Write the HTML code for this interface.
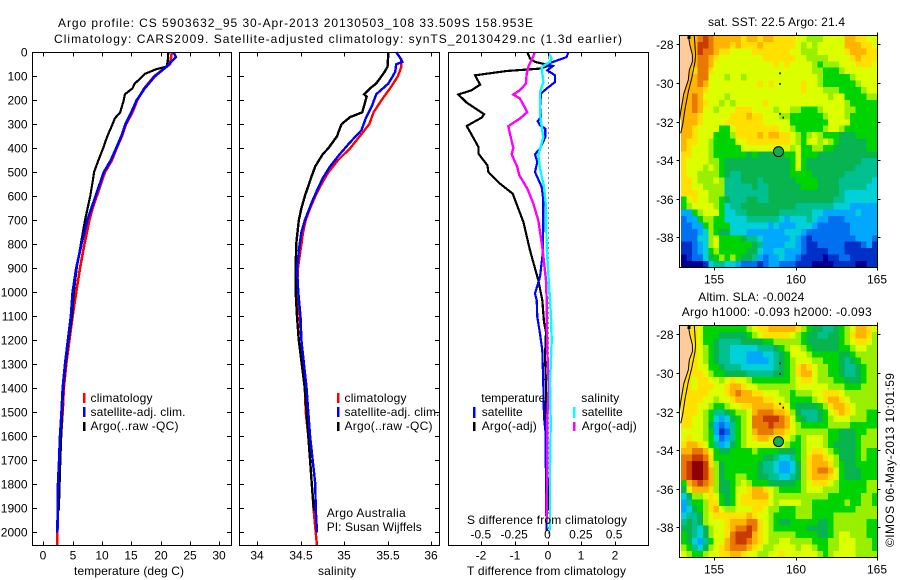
<!DOCTYPE html>
<html lang="en">
<head>
<meta charset="utf-8">
<title>Argo profile chart</title>
<style>
html,body{margin:0;padding:0;background:#fff;}
svg{display:block;}
text{font-family:"Liberation Sans",sans-serif;font-size:12px;fill:#000;}
</style>
</head>
<body>
<svg id="chart" xmlns="http://www.w3.org/2000/svg" width="900" height="580" viewBox="0 0 900 580">
<rect x="0" y="0" width="900" height="580" fill="#fff"/>
<g id="cells"></g>
<g id="marks"></g>
<g id="axes"></g>
<text x="58" y="27" textLength="475" lengthAdjust="spacing">Argo profile: CS 5903632_95 30-Apr-2013 20130503_108 33.509S 158.953E</text>
<text x="54" y="43" textLength="568" lengthAdjust="spacing">Climatology: CARS2009. Satellite-adjusted climatology: synTS_20130429.nc (1.3d earlier)</text>
<text x="74" y="575" textLength="110" lengthAdjust="spacing">temperature (deg C)</text>
<text x="318" y="575" textLength="38" lengthAdjust="spacing">salinity</text>
<text x="467" y="575" textLength="159" lengthAdjust="spacing">T difference from climatology</text>
<text x="467" y="524" textLength="160" lengthAdjust="spacing">S difference from climatology</text>

<g>
<rect x="83" y="393" width="2.5" height="10" fill="#f00"/>
<rect x="83" y="407" width="2.5" height="10" fill="#00f"/>
<rect x="83" y="422" width="2.5" height="9" fill="#000"/>
<text x="90.5" y="402" textLength="62" lengthAdjust="spacing">climatology</text>
<text x="90.5" y="416" textLength="95" lengthAdjust="spacing">satellite-adj. clim.</text>
<text x="90.5" y="430" textLength="88" lengthAdjust="spacing">Argo(..raw -QC)</text>
</g>
<g>
<rect x="337" y="393" width="2.5" height="10" fill="#f00"/>
<rect x="337" y="407" width="2.5" height="10" fill="#00f"/>
<rect x="337" y="422" width="2.5" height="9" fill="#000"/>
<text x="344.5" y="402" textLength="62" lengthAdjust="spacing">climatology</text>
<text x="344.5" y="416" textLength="95" lengthAdjust="spacing">satellite-adj. clim.</text>
<text x="344.5" y="430" textLength="88" lengthAdjust="spacing">Argo(..raw -QC)</text>
<text x="326.7" y="517" textLength="79" lengthAdjust="spacing">Argo Australia</text>
<text x="326.7" y="531" textLength="95" lengthAdjust="spacing">PI: Susan Wijffels</text>
</g>
<g>
<text x="481.3" y="402" textLength="64" lengthAdjust="spacing">temperature</text>
<rect x="473" y="407" width="2.5" height="11" fill="#00f"/>
<rect x="473" y="422" width="2.5" height="9" fill="#000"/>
<text x="481.7" y="416" textLength="41" lengthAdjust="spacing">satellite</text>
<text x="481.7" y="430" textLength="55" lengthAdjust="spacing">Argo(-adj)</text>
<text x="581.3" y="402" textLength="38" lengthAdjust="spacing">salinity</text>
<rect x="573" y="407" width="2.5" height="11" fill="#0ff"/>
<rect x="573" y="422" width="2.5" height="9" fill="#f0f"/>
<text x="581.7" y="416" textLength="41" lengthAdjust="spacing">satellite</text>
<text x="581.7" y="430" textLength="55" lengthAdjust="spacing">Argo(-adj)</text>
</g>

<text x="708" y="26" textLength="137" lengthAdjust="spacing">sat. SST: 22.5 Argo: 21.4</text>
<text x="698.3" y="301" textLength="106" lengthAdjust="spacing">Altim. SLA: -0.0024</text>
<text x="681.7" y="316" textLength="190" lengthAdjust="spacing">Argo h1000: -0.093 h2000: -0.093</text>
<text transform="translate(894,547) rotate(-90)" x="0" y="0" textLength="174" lengthAdjust="spacing">©IMOS 06-May-2013 10:01:59</text>
</svg>

<script>
// ---- profile data: temperature (deg C) ----
const tempClimDepth = [0,50,60,100,150,200,250,300,350,400,450,500,550,600,650,700,800,900,1000,1100,1200,1300,1400,1500,1600,1700,1800,1900,2000,2055];
const tempClimValue = [21.9,21.6,21.0,18.9,17.2,16.0,15.2,14.1,13.4,12.5,11.7,10.5,9.8,9.1,8.4,7.85,7.0,6.25,5.6,5.0,4.45,3.9,3.5,3.3,3.0,2.8,2.6,2.5,2.4,2.4];
const tempSatDepth = [0,20,60,100,150,200,250,300,350,400,450,500,550,600,650,700,800,900,1000,1100,1200,1300,1400,1500,1600,1700,1800,1900,2000];
const tempSatValue = [22.2,22.6,21.0,19.0,17.3,15.9,15.0,14.0,13.3,12.4,11.5,10.3,9.6,8.9,8.2,7.5,6.5,5.6,5.0,4.7,4.2,3.7,3.3,3.1,2.85,2.7,2.5,2.45,2.4];
const tempArgoDepth = [0,40,60,70,90,110,130,150,175,200,250,275,300,350,400,450,500,525,600,700,800,900,1000,1100,1200,1300,1400,1500,1700,1910];
const tempArgoValue = [21.3,21.2,21.0,19.3,17.3,16.5,15.6,15.2,13.9,13.7,13.1,12.2,11.8,10.9,10.2,9.4,8.65,8.5,8.0,7.1,6.4,5.7,5.2,4.9,4.3,3.8,3.4,3.2,2.9,2.65];

// ---- profile data: salinity ----
const salClimDepth = [0,30,60,100,150,200,250,300,350,400,450,500,550,600,650,700,750,800,900,1000,1100,1200,1300,1400,1500,1600,1700,1800,1900,2000,2055];
const salClimValue = [35.6,35.66,35.66,35.62,35.53,35.43,35.34,35.29,35.18,35.07,34.93,34.82,34.74,34.67,34.61,34.56,34.53,34.51,34.47,34.46,34.49,34.51,34.53,34.55,34.56,34.59,34.61,34.63,34.65,34.675,34.69];
const salSatDepth = [0,20,40,50,80,100,130,175,225,275,325,375,425,475,525,575,625,700,750,800,900,1000,1100,1200,1300,1400,1500,1600,1700,1800,1900,2000];
const salSatValue = [35.6,35.64,35.67,35.6,35.59,35.56,35.51,35.37,35.32,35.25,35.2,35.07,34.95,34.84,34.755,34.69,34.63,34.55,34.51,34.49,34.46,34.475,34.5,34.51,34.54,34.57,34.59,34.61,34.64,34.67,34.675,34.69];
const salArgoDepth = [0,60,80,110,130,150,175,185,250,270,300,310,350,400,425,475,525,600,650,700,800,900,1000,1100,1200,1300,1400,1500,1600,1700,1800,1910];
const salArgoValue = [35.51,35.5,35.47,35.41,35.37,35.3,35.23,35.26,35.21,35.07,34.97,34.96,34.92,34.82,34.755,34.67,34.62,34.55,34.51,34.48,34.45,34.445,34.445,34.46,34.48,34.515,34.55,34.57,34.59,34.61,34.63,34.655];

// ---- profile differences ----
const dTArgoDepth = [0,26,40,54,68,78,96,135,158,176,210,258,272,307,332,394,422,471,499,547,589,707,825,950,1033,1124,1166,1269,1380,1450,1728,1867,1910];
const dTArgoValue = [-0.62,-0.54,-0.39,0.06,-0.24,-1.24,-2.19,-2.04,-2.29,-2.69,-2.44,-1.92,-1.99,-2.44,-2.34,-2.09,-2.09,-1.82,-1.79,-1.44,-1.06,-0.74,-0.54,-0.29,-0.17,-0.12,-0.06,-0.09,-0.06,-0.06,-0.02,0.01,0.01];
const dTSatDepth = [0,20,37,54,58,75,96,124,151,172,228,269,287,304,318,353,401,425,457,499,561,617,720,839,936,1005,1033,1103,1172,1242,1380,1519,1589,1867,1992];
const dTSatValue = [0.61,0.56,0.21,-0.14,0.14,-0.02,0.21,0.21,-0.04,-0.21,-0.24,-0.21,-0.31,-0.24,-0.08,-0.08,-0.24,-0.39,-0.32,-0.39,-0.19,-0.14,-0.14,-0.16,-0.24,-0.39,-0.34,-0.32,-0.24,-0.17,-0.14,-0.12,-0.07,-0.06,-0.04];
const dSArgoDepth = [0,61,89,130,158,176,193,249,276,308,353,397,425,478,512,568,630,700,811,950,1033,1103,1242,1394,1519,1728,1922,1950];
const dSArgoValue = [-0.0975,-0.1475,-0.16,-0.165,-0.21,-0.26,-0.21,-0.155,-0.21,-0.2975,-0.28,-0.26,-0.2725,-0.23,-0.215,-0.155,-0.11,-0.0725,-0.0425,-0.015,-0.01,-0.01,-0.005,0.005,-0.005,-0.005,-0.01,-0.01];
const dSSatDepth = [0,26,40,61,124,165,254,311,353,429,483,561,645,811,921,1033,1103,1200,1380,1546,1728,1992];
const dSSatValue = [0.0025,0.0275,0.015,-0.0475,-0.035,-0.06,-0.06,-0.0475,-0.035,-0.0725,-0.06,-0.03,-0.015,-0.01,0.0025,0.015,0.0225,0.0275,0.015,0.02,0.015,0.015];

// ---- tick labels ----
const depthTicks = [0,100,200,300,400,500,600,700,800,900,1000,1100,1200,1300,1400,1500,1600,1700,1800,1900,2000];
const tempTicks = [0,5,10,15,20,25,30];
const salTicks = [34,34.5,35,35.5,36];
const dTTicks = [-2,-1,0,1,2];
const dSTicks = [-0.5,-0.25,0,0.25,0.5];
const lonTicks = [155,160,165];
const latTicks = [-28,-30,-32,-34,-36,-38];

// ---- map overlay data ----
const coastWestLon = [153.40,153.50,153.65,153.65,153.46,153.40,153.13,152.93,152.84];
const coastWestLat = [-27.55,-28.04,-28.55,-28.90,-29.33,-29.85,-30.54,-31.49,-32.10];
const coastEastLon = [153.77,153.85,153.81,153.61,153.40,153.20,153.05,152.93];
const coastEastLat = [-27.55,-28.55,-28.90,-29.76,-30.46,-31.32,-32.18,-32.61];
const islandLon = [159.0,159.0,159.0,159.2];
const islandLat = [-29.45,-30.0,-31.55,-31.75];
const floatLon = 158.953;
const floatLat = -33.509;

// ---- map colour levels ----
const levelColors = ['#000090','#0030c8','#0070f0','#00a8ff','#00d0d8','#00c090','#08b450','#00d400','#98f000','#dcff00','#ffe000','#ffb400','#e87800','#c83c00','#900000'];

// ---- SST map, colour level per cell, north to south ----
const sstRows = [
[11,11,11,12,13,12,11,11,11,11,11,10,11,11,10,11,11,10,10,10,10,9,9,8,8,8,9,9,9,9,11,11,10,10,9,9],
[11,11,11,13,13,12,11,11,11,10,11,10,10,10,11,10,10,10,10,10,10,9,8,9,8,9,9,9,9,9,11,11,11,10,10,9],
[11,11,11,13,12,12,11,10,10,9,9,9,9,10,10,10,10,10,10,10,9,9,8,8,8,9,9,9,9,9,10,11,11,11,10,10],
[11,11,11,12,12,11,10,9,9,9,9,9,9,9,9,10,10,10,10,10,10,9,9,8,8,8,8,9,9,9,9,10,11,10,10,10],
[11,11,11,12,12,11,9,9,9,9,9,9,9,9,9,9,9,10,9,10,9,9,9,9,8,7,8,8,8,9,9,9,10,10,10,9],
[11,11,10,12,12,10,9,9,9,9,9,9,9,9,9,9,9,9,9,9,9,9,9,9,8,8,7,7,7,8,9,9,9,9,9,9],
[11,11,11,12,12,9,9,9,8,9,9,8,9,9,9,9,9,9,9,9,9,9,9,9,9,8,7,7,7,7,7,8,9,9,9,9],
[11,11,11,12,11,9,9,9,9,9,9,9,9,9,10,9,10,9,9,9,9,9,10,9,9,8,7,7,7,7,7,7,8,9,9,9],
[11,11,11,11,10,9,9,9,9,9,9,9,9,9,9,9,9,9,9,9,9,9,10,9,9,9,8,8,8,7,7,7,7,8,9,9],
[11,11,12,11,9,9,9,9,8,9,9,9,9,9,9,9,9,9,9,9,9,9,9,9,9,9,9,8,9,9,7,7,7,7,8,8],
[11,11,12,11,10,9,9,8,9,8,9,9,9,9,9,10,9,9,9,9,9,9,9,9,9,9,9,9,9,9,8,7,7,7,7,7],
[11,11,12,11,9,9,8,9,9,9,10,10,10,9,9,9,9,8,9,9,8,8,7,7,7,8,9,9,9,9,8,8,7,7,7,7],
[11,11,11,10,9,9,9,9,9,10,10,10,11,10,10,9,9,9,8,8,7,7,7,7,7,7,8,9,9,9,8,7,7,7,7,7],
[11,11,11,10,9,9,9,9,10,10,10,10,10,10,10,9,9,9,9,9,7,7,7,7,7,7,7,9,9,9,9,7,7,7,7,7],
[11,11,10,9,9,9,9,7,7,9,10,10,10,10,10,10,10,10,9,9,8,7,7,7,7,7,8,9,9,8,7,7,7,7,7,7],
[11,11,10,9,9,9,7,7,7,8,10,10,10,10,11,10,11,11,10,10,9,8,7,8,9,8,7,7,7,6,6,6,7,7,7,7],
[11,10,10,9,9,8,7,7,7,7,9,9,10,10,10,10,10,10,10,10,9,8,7,9,9,8,9,8,7,6,6,6,6,6,7,7],
[11,10,9,9,9,8,7,7,7,7,7,9,9,9,9,9,9,9,9,9,8,9,7,7,8,8,7,7,6,6,6,6,6,6,7,7],
[10,10,9,9,9,8,7,7,7,7,7,7,6,7,6,6,6,6,6,7,7,9,7,7,7,6,6,6,6,6,6,6,6,6,6,6],
[10,9,9,9,9,8,8,7,6,6,6,6,6,6,6,6,6,6,6,6,7,9,7,6,6,6,6,6,6,6,6,6,6,5,5,5],
[10,9,9,9,8,9,8,7,6,6,6,6,6,6,6,6,6,6,6,6,7,9,7,6,6,6,6,6,6,6,6,6,5,5,5,5],
[10,9,9,8,8,8,8,7,6,5,5,6,6,6,6,6,6,6,6,6,7,7,7,7,6,6,6,6,6,6,5,5,5,5,5,5],
[10,10,9,8,8,8,9,8,5,5,5,6,6,6,5,6,6,6,6,6,6,7,7,7,7,6,6,6,6,5,5,5,5,5,5,4],
[10,10,9,9,8,8,8,8,5,5,5,5,5,6,5,5,6,6,6,6,6,6,7,7,7,6,6,6,6,5,5,5,5,5,4,4],
[10,10,10,9,9,8,8,8,5,5,5,5,5,5,5,5,6,6,6,6,6,6,6,6,6,6,6,6,6,5,4,4,4,4,4,4],
[7,9,10,9,9,8,8,7,6,5,5,5,6,6,5,5,6,6,6,6,6,6,6,6,6,6,6,6,5,5,4,4,4,4,4,4],
[7,8,9,9,9,9,8,7,4,5,5,6,6,6,6,6,6,6,6,6,6,5,5,5,5,5,5,5,4,4,4,3,3,3,3,3],
[3,3,7,8,9,9,9,7,4,4,5,5,6,6,6,6,6,6,5,5,5,5,5,5,4,4,3,3,3,3,3,3,4,3,3,3],
[2,3,3,7,8,8,7,7,4,4,4,4,5,5,5,5,5,5,4,3,4,4,4,5,4,3,3,2,2,2,3,3,3,3,3,3],
[2,2,3,3,7,8,7,7,7,4,4,4,4,4,4,4,3,4,3,3,3,4,4,4,3,2,2,2,2,2,2,3,3,3,3,3],
[2,2,2,3,4,8,7,6,6,4,4,4,3,3,3,3,3,3,3,4,4,4,3,2,2,2,2,2,2,2,2,3,3,3,3,3],
[2,2,2,4,4,8,9,7,7,7,7,6,5,5,4,3,3,3,3,3,4,3,2,1,2,2,2,2,2,2,2,2,3,3,3,2],
[1,1,2,3,4,8,9,7,7,7,7,7,7,6,5,3,3,3,3,4,4,3,2,1,1,2,2,2,2,2,1,1,1,2,3,1],
[1,1,2,3,4,7,8,7,7,7,7,7,6,6,4,3,3,4,4,3,3,3,2,1,1,1,1,2,2,2,1,1,1,1,1,1],
[0,1,2,2,4,6,7,8,7,8,7,6,6,5,3,2,3,3,4,3,3,2,1,1,1,1,0,1,1,2,2,1,1,1,1,1],
[0,0,0,0,1,4,5,5,4,4,3,2,2,2,1,2,3,3,2,2,2,1,1,1,0,0,0,0,1,1,1,1,0,0,1,1]
];

// ---- altimeter SLA map, colour level per cell, north to south ----
const slaRows = [
[10,10,10,9,7,7,7,7,7,7,7,7,8,9,10,10,11,11,11,11,11,10,8,7,6,6,5,5,6,7,8,9,11,11,10,9],
[10,10,10,9,7,7,7,6,6,6,6,6,7,8,9,10,10,10,10,10,9,8,7,6,6,5,5,6,6,7,8,10,11,11,10,8],
[10,10,10,9,7,7,6,5,5,5,5,6,6,6,6,7,7,8,8,8,8,8,7,6,6,6,6,6,6,7,8,9,10,10,9,8],
[10,10,10,9,8,7,6,5,5,4,4,4,4,4,5,5,5,6,7,8,9,9,8,7,6,6,6,6,6,7,7,8,9,9,8,8],
[10,10,10,9,8,7,6,5,5,4,4,4,3,3,3,4,4,5,6,7,9,9,9,8,7,7,7,7,7,6,6,7,8,8,8,8],
[10,10,10,9,8,7,6,5,5,4,4,4,3,3,3,3,4,5,6,7,8,9,9,9,8,8,7,7,7,6,5,6,7,8,8,8],
[10,10,10,9,9,7,7,6,5,5,5,4,4,4,4,4,4,5,6,7,8,10,11,10,9,8,8,7,7,6,5,5,6,7,8,8],
[10,10,10,10,9,8,7,7,6,6,6,6,5,5,5,5,5,6,6,7,8,10,11,11,9,8,8,7,7,6,5,5,6,7,8,8],
[10,10,9,10,10,9,9,8,9,10,9,9,8,7,7,7,7,7,7,7,8,9,10,10,9,8,8,8,7,7,6,6,6,7,8,8],
[10,10,9,10,10,10,9,9,10,11,11,10,9,9,8,8,8,8,8,8,8,9,9,9,9,9,9,8,8,8,7,7,7,8,8,8],
[10,10,10,10,10,9,9,9,10,11,12,11,11,10,10,9,9,9,8,8,7,8,8,8,9,9,10,10,10,9,8,8,8,8,8,8],
[10,10,10,10,9,9,8,9,9,10,11,11,11,11,11,10,10,9,9,8,7,7,7,7,8,9,10,11,11,10,9,8,8,8,8,8],
[10,10,10,9,9,8,7,7,8,9,9,10,10,11,11,11,11,10,10,9,7,6,6,6,6,7,8,10,11,11,10,9,8,8,8,8],
[10,10,10,9,8,7,5,5,6,7,8,8,9,11,12,12,12,11,11,10,8,6,5,5,5,6,7,9,10,11,10,9,8,8,7,7],
[10,10,9,9,8,7,4,3,4,6,7,8,9,12,12,13,13,13,12,11,9,7,6,5,5,6,7,8,9,9,9,8,8,8,7,7],
[10,10,9,9,8,6,3,2,3,5,7,8,9,12,12,12,13,12,12,11,9,8,7,7,7,7,7,8,8,8,8,7,7,7,7,7],
[9,9,9,9,8,7,3,1,2,5,7,8,9,11,12,12,12,11,11,10,9,8,8,8,8,8,8,7,7,6,6,6,7,7,8,8],
[9,10,9,9,8,7,4,2,3,5,7,8,9,10,11,11,10,10,10,9,8,7,8,9,9,9,8,7,7,6,6,6,7,8,8,8],
[10,11,11,10,9,7,5,3,4,6,7,8,9,9,9,9,9,9,9,8,7,7,8,9,9,9,8,7,6,6,6,6,7,8,8,8],
[11,11,12,12,11,9,7,6,6,7,7,7,7,8,7,7,7,7,6,6,6,7,8,9,10,10,9,8,7,6,6,6,7,8,7,7],
[12,12,13,13,12,10,7,7,7,7,7,7,7,7,7,6,6,5,4,4,5,7,8,10,11,11,10,9,8,6,6,6,7,8,7,7],
[12,13,14,14,13,10,8,6,7,7,7,7,7,7,6,5,5,4,3,3,4,6,8,10,11,11,11,10,8,7,6,6,7,7,7,7],
[12,13,14,14,13,11,8,6,7,7,7,7,7,7,6,5,5,4,3,3,4,6,8,10,11,12,12,11,9,7,6,6,6,7,7,7],
[12,13,14,14,13,11,8,6,7,7,8,8,7,7,6,6,5,5,4,4,5,6,8,10,11,11,11,10,9,7,6,6,6,7,7,7],
[7,11,12,13,12,11,8,6,6,7,8,9,8,7,7,7,6,6,6,6,6,7,8,9,10,10,10,9,8,7,7,7,7,7,8,8],
[6,9,11,11,11,10,8,6,6,7,9,9,10,11,11,10,9,8,7,7,7,7,8,9,9,9,8,8,8,7,7,7,7,7,8,8],
[4,6,8,8,9,10,9,7,6,7,9,10,10,11,11,11,9,8,8,8,8,8,8,8,8,8,8,7,7,7,7,7,7,8,8,7],
[3,5,7,7,8,10,10,7,6,7,9,10,10,10,10,10,9,8,9,9,9,9,8,8,7,7,7,7,7,7,8,7,7,8,8,7],
[3,4,6,7,8,10,11,9,8,8,9,9,9,10,10,9,8,8,7,7,7,8,8,8,7,7,7,7,7,7,7,7,8,8,8,8],
[4,5,5,6,8,9,10,10,10,10,10,10,11,10,9,9,8,7,7,7,7,8,8,8,7,7,7,7,8,8,8,8,8,8,8,8],
[5,6,5,6,8,9,9,9,10,11,11,11,12,12,10,9,8,7,6,6,7,7,7,7,7,6,6,7,8,8,8,8,8,8,7,7],
[6,6,5,4,6,8,9,9,10,11,12,12,13,12,10,9,8,7,7,7,7,7,7,6,6,6,6,7,8,8,8,8,8,8,7,7],
[7,6,5,4,6,8,9,9,10,12,13,13,13,11,10,9,8,8,8,8,8,7,7,7,7,6,6,7,8,9,9,8,8,8,7,7],
[7,6,4,3,5,7,9,9,11,12,13,13,12,11,10,9,8,8,9,9,8,8,8,8,7,7,7,8,8,9,9,9,8,8,8,7],
[8,7,5,4,6,8,9,10,11,12,12,12,11,10,9,8,8,9,9,9,9,8,9,9,8,7,7,8,8,9,9,9,8,8,8,7],
[9,8,7,7,8,9,9,10,10,11,11,10,9,9,8,8,9,9,10,9,9,9,9,9,9,8,7,8,9,9,9,9,8,8,8,8]
];

const NS = 'http://www.w3.org/2000/svg';
const cellsLayer = document.getElementById('cells');
const marksLayer = document.getElementById('marks');
const axesLayer = document.getElementById('axes');

function make(tag, parent, name) {
  const el = document.createElementNS(NS, tag);
  
  
  parent.appendChild(el);
  return el;
}
function line(parent, name, x1, y1, x2, y2) {
  const el = make('line', parent, name);
  el.setAttribute('x1', x1);
  el.setAttribute('y1', y1);
  el.setAttribute('x2', x2);
  el.setAttribute('y2', y2);
  el.setAttribute('stroke', '#000');
  el.setAttribute('stroke-width', '1');
  el.setAttribute('shape-rendering', 'crispEdges');
  return el;
}
function label(parent, name, x, y, str, anchor) {
  const el = make('text', parent, name);
  el.setAttribute('x', x);
  el.setAttribute('y', y);
  el.setAttribute('text-anchor', anchor);
  el.textContent = str;
  return el;
}
function frame(parent, name, x, y, w, h) {
  const el = make('rect', parent, name);
  el.setAttribute('x', x);
  el.setAttribute('y', y);
  el.setAttribute('width', w);
  el.setAttribute('height', h);
  el.setAttribute('fill', 'none');
  el.setAttribute('stroke', '#000');
  el.setAttribute('stroke-width', '1');
  el.setAttribute('shape-rendering', 'crispEdges');
  return el;
}

// ---- scales ----
const plotTop = 52.5, plotBottom = 545.5;
function yDepth(d) { return 52.3 + d * 0.24; }
function xTemp(t) { return 43.3 + t * 5.867; }
function xSal(s) { return 257 + (s - 34) * 87; }
function xDT(t) { return 548 + t * 33.3; }
function xDS(s) { return 548 + s * 133.3; }
function fmt(v) { return String(Math.round(v * 10) / 10); }

function series(name, color, xf, depth, vals, width) {
  const el = make('polyline', marksLayer, name);
  const pts = depth.map(function (d, i) {
    return xf(vals[i]).toFixed(1) + ',' + yDepth(d).toFixed(1);
  });
  el.setAttribute('points', pts.join(' '));
  el.setAttribute('fill', 'none');
  el.setAttribute('stroke', color);
  el.setAttribute('stroke-width', width);
  el.setAttribute('shape-rendering', 'crispEdges');
}

// zero reference in difference panel (dotted)
const zeroLine = make('line', marksLayer, 'zero-difference-line');
zeroLine.setAttribute('x1', xDT(0) + 0.5);
zeroLine.setAttribute('x2', xDT(0) + 0.5);
zeroLine.setAttribute('y1', plotTop);
zeroLine.setAttribute('y2', plotBottom);
zeroLine.setAttribute('stroke', '#000');
zeroLine.setAttribute('stroke-width', '1');
zeroLine.setAttribute('stroke-dasharray', '1 4');
zeroLine.setAttribute('shape-rendering', 'crispEdges');

series('temperature-climatology-line', '#f00', xTemp, tempClimDepth, tempClimValue, 2.6);
series('temperature-argo-line', '#000', xTemp, tempArgoDepth, tempArgoValue, 2.2);
series('temperature-satellite-line', '#00f', xTemp, tempSatDepth, tempSatValue, 2.6);
series('salinity-climatology-line', '#f00', xSal, salClimDepth, salClimValue, 2.4);
series('salinity-argo-line', '#000', xSal, salArgoDepth, salArgoValue, 2.4);
series('salinity-satellite-line', '#00f', xSal, salSatDepth, salSatValue, 2.4);
series('t-difference-argo-line', '#000', xDT, dTArgoDepth, dTArgoValue, 2.2);
series('t-difference-satellite-line', '#00f', xDT, dTSatDepth, dTSatValue, 2.2);
series('s-difference-argo-line', '#f0f', xDS, dSArgoDepth, dSArgoValue, 2.4);
series('s-difference-satellite-line', '#0ff', xDS, dSSatDepth, dSSatValue, 2.4);

// ---- profile panel axes ----
frame(axesLayer, 'temperature-panel-frame', 32.5, plotTop, 199, plotBottom - plotTop);
frame(axesLayer, 'salinity-panel-frame', 239.5, plotTop, 200, plotBottom - plotTop);
frame(axesLayer, 'difference-panel-frame', 448.5, plotTop, 200, plotBottom - plotTop);

depthTicks.forEach(function (d) {
  const y = Math.round(yDepth(d)) + 0.5;
  label(axesLayer, 'depth-tick-label', 27.5, y + 4, String(d), 'end');
  line(axesLayer, 'depth-tick', 32.5, y, 37, y);
  line(axesLayer, 'depth-tick', 227, y, 231.5, y);
  line(axesLayer, 'depth-tick', 239.5, y, 244, y);
  line(axesLayer, 'depth-tick', 435, y, 439.5, y);
});
function xTicks(ticks, xf, name, bottomLabels, fmtFn) {
  ticks.forEach(function (t) {
    const x = Math.round(xf(t)) + 0.5;
    line(axesLayer, name + '-tick', x, plotTop, x, plotTop + 4);
    line(axesLayer, name + '-tick', x, plotBottom - 4, x, plotBottom);
    if (bottomLabels) {
      label(axesLayer, name + '-tick-label', x - 0.5, 559.5, fmtFn(t), 'middle');
    }
  });
}
xTicks(tempTicks, xTemp, 'temperature', true, fmt);
xTicks(salTicks, xSal, 'salinity', true, fmt);
xTicks(dTTicks, xDT, 't-difference', true, fmt);
dSTicks.forEach(function (s) {
  label(axesLayer, 's-difference-tick-label', xDS(s) - 0.5, 538.7, String(s), 'middle');
});

// ---- maps ----
function lonX(lon) { return 714.3 + (lon - 155) * 16.24; }
function latY(top, lat) { return top + 8.8 + (-28 - lat) * 19.3; }

function drawMap(prefix, rows, top) {
  const cellW = 5.453, cellH = 6.444, left = 681;
  rows.forEach(function (row, r) {
    row.forEach(function (level, c) {
      const cell = make('rect', cellsLayer, prefix + '-map-cell');
      cell.setAttribute('x', (left + c * cellW).toFixed(2));
      cell.setAttribute('y', (top + r * cellH).toFixed(2));
      cell.setAttribute('width', (cellW + 0.4).toFixed(2));
      cell.setAttribute('height', (cellH + 0.4).toFixed(2));
      cell.setAttribute('fill', levelColors[level]);
      cell.setAttribute('shape-rendering', 'crispEdges');
    });
  });

  // land polygon west of the coast
  const land = make('polygon', marksLayer, prefix + '-land');
  const landPts = ['679.5,' + top];
  coastWestLon.forEach(function (lon, i) {
    landPts.push(lonX(lon).toFixed(1) + ',' + latY(top, coastWestLat[i]).toFixed(1));
  });
  landPts.push('679.5,' + latY(top, -32.6).toFixed(1));
  land.setAttribute('points', landPts.join(' '));
  land.setAttribute('fill', '#ffcc99');

  // coast lines
  [[coastWestLon, coastWestLat, 'west'], [coastEastLon, coastEastLat, 'east']].forEach(function (set) {
    const coast = make('polyline', marksLayer, prefix + '-coastline-' + set[2]);
    const pts = set[0].map(function (lon, i) {
      return lonX(lon).toFixed(1) + ',' + latY(top, set[1][i]).toFixed(1);
    });
    coast.setAttribute('points', pts.join(' '));
    coast.setAttribute('fill', 'none');
    coast.setAttribute('stroke', '#000');
    coast.setAttribute('stroke-width', '1');
  });

  const blob = make('rect', marksLayer, prefix + '-coast-blob');
  blob.setAttribute('x', '687.5');
  blob.setAttribute('y', top + 0.5);
  blob.setAttribute('width', '3');
  blob.setAttribute('height', '3');
  blob.setAttribute('fill', '#000');

  islandLon.forEach(function (lon, i) {
    const isle = make('rect', marksLayer, prefix + '-island');
    isle.setAttribute('x', lonX(lon).toFixed(1));
    isle.setAttribute('y', latY(top, islandLat[i]).toFixed(1));
    isle.setAttribute('width', '1.5');
    isle.setAttribute('height', '2');
    isle.setAttribute('fill', '#000');
  });

  const dot = make('circle', marksLayer, prefix + '-float-position');
  dot.setAttribute('cx', lonX(floatLon).toFixed(1));
  dot.setAttribute('cy', (latY(top, floatLat) + 1).toFixed(1));
  dot.setAttribute('r', '5');
  dot.setAttribute('fill', '#10b050');
  dot.setAttribute('stroke', '#000');
  dot.setAttribute('stroke-width', '1');

  const bottom = top + 232;
  frame(axesLayer, prefix + '-map-frame', 679.5, top, 198, 232);
  lonTicks.forEach(function (lon) {
    const x = Math.round(lonX(lon)) + 0.5;
    line(axesLayer, prefix + '-lon-tick', x, top - 3, x, top);
    line(axesLayer, prefix + '-lon-tick', x, bottom, x, bottom + 3);
    label(axesLayer, prefix + '-lon-tick-label', x - 0.5, bottom + 16, String(lon), 'middle');
  });
  latTicks.forEach(function (lat) {
    const y = Math.round(latY(top, lat)) + 0.5;
    line(axesLayer, prefix + '-lat-tick', 676.5, y, 679.5, y);
    line(axesLayer, prefix + '-lat-tick', 877.5, y, 880.5, y);
    label(axesLayer, prefix + '-lat-tick-label', 673.5, y + 4.3, String(lat), 'end');
  });
}
drawMap('sst', sstRows, 35.5);
drawMap('sla', slaRows, 325.5);
</script>
</body>
</html>
